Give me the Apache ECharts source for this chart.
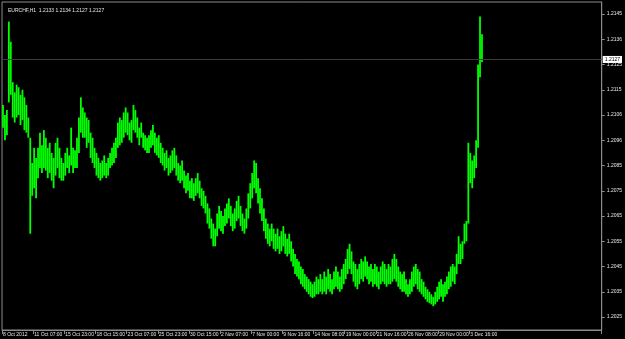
<!DOCTYPE html>
<html><head><meta charset="utf-8">
<script src="https://cdn.jsdelivr.net/npm/echarts@6/dist/echarts.min.js"></script>
<style>html,body{margin:0;padding:0;background:#000;}#c{width:625px;height:339px;}</style>
</head><body><div id="c"></div>
<script>
const symbolTitle = "EURCHF,H1  1.2133 1.2134 1.2127 1.2127";
const xTickLabels = ["8 Oct 2012","11 Oct 07:00","15 Oct 23:00","18 Oct 15:00","23 Oct 07:00","25 Oct 23:00","30 Oct 15:00","2 Nov 07:00","7 Nov 00:00","9 Nov 16:00","14 Nov 08:00","19 Nov 00:00","21 Nov 16:00","26 Nov 08:00","29 Nov 00:00","3 Dec 16:00"];
const barsPerLabel = 16;
const totalSlots = 308;
const yTickValues = [1.2145,1.2135,1.2125,1.2115,1.2105,1.2095,1.2085,1.2075,1.2065,1.2055,1.2045,1.2035,1.2025];
const yTickLabels = ["1.2145","1.2136","1.2125","1.2115","1.2106","1.2096","1.2085","1.2075","1.2065","1.2055","1.2045","1.2035","1.2025"];
const lastPrice = 1.2127;
const lastPriceLabel = "1.2127";

// 4-hour bar highs and lows
const highs = [
1.2109,1.2105,1.2107,1.2142,1.2134,1.2118,1.2114,1.2117,1.2116,1.2113,
1.2115,1.2112,1.2109,1.2104,1.2096,1.2086,1.2092,1.2088,1.2092,1.2098,
1.2093,1.2099,1.2096,1.2092,1.2094,1.2090,1.2088,1.2094,1.2096,1.2092,
1.2088,1.2086,1.2090,1.2092,1.2089,1.2100,1.2092,1.2091,1.2096,1.2104,
1.2112,1.2108,1.2106,1.2104,1.2103,1.2098,1.2096,1.2092,1.2090,1.2088,
1.2086,1.2087,1.2089,1.2086,1.2088,1.2090,1.2092,1.2094,1.2096,1.2102,
1.2104,1.2103,1.2106,1.2108,1.2106,1.2102,1.2103,1.2109,1.2107,1.2104,
1.2100,1.2102,1.2098,1.2097,1.2096,1.2097,1.2099,1.2101,1.2098,1.2096,
1.2097,1.2094,1.2092,1.2090,1.2091,1.2088,1.2089,1.2091,1.2092,1.2089,
1.2086,1.2085,1.2087,1.2083,1.2081,1.2082,1.2079,1.2080,1.2078,1.2080,
1.2082,1.2079,1.2076,1.2075,1.2073,1.2070,1.2068,1.2064,1.2062,1.2060,
1.2066,1.2069,1.2067,1.2065,1.2068,1.2070,1.2072,1.2069,1.2066,1.2068,
1.2071,1.2073,1.2069,1.2066,1.2064,1.2068,1.2074,1.2078,1.2082,1.2087,
1.2086,1.2080,1.2076,1.2072,1.2068,1.2064,1.2062,1.2060,1.2062,1.2060,
1.2058,1.2060,1.2057,1.2059,1.2061,1.2058,1.2056,1.2058,1.2055,1.2052,
1.2050,1.2048,1.2047,1.2045,1.2044,1.2042,1.2041,1.2040,1.2039,1.2038,
1.2039,1.2041,1.2040,1.2042,1.2040,1.2043,1.2041,1.2044,1.2042,1.2040,
1.2043,1.2045,1.2043,1.2041,1.2044,1.2046,1.2048,1.2052,1.2054,1.2051,
1.2047,1.2046,1.2044,1.2046,1.2048,1.2047,1.2049,1.2047,1.2045,1.2046,
1.2044,1.2046,1.2045,1.2043,1.2045,1.2047,1.2046,1.2044,1.2046,1.2045,
1.2048,1.2050,1.2048,1.2045,1.2043,1.2042,1.2043,1.2040,1.2038,1.2040,
1.2043,1.2045,1.2046,1.2044,1.2043,1.2040,1.2039,1.2037,1.2036,1.2035,
1.2034,1.2033,1.2035,1.2037,1.2039,1.2040,1.2038,1.2039,1.2041,1.2043,
1.2045,1.2046,1.2045,1.2050,1.2057,1.2054,1.2055,1.2062,1.2063,1.2094,
1.2090,1.2087,1.2089,1.2095,1.2125,1.2144,1.2137
];
const lows = [
1.2100,1.2095,1.2097,1.2110,1.2113,1.2104,1.2102,1.2104,1.2105,1.2101,
1.2103,1.2099,1.2098,1.2096,1.2058,1.2073,1.2076,1.2072,1.2080,1.2084,
1.2082,1.2084,1.2083,1.2080,1.2082,1.2079,1.2076,1.2081,1.2084,1.2080,
1.2079,1.2079,1.2081,1.2084,1.2082,1.2085,1.2082,1.2084,1.2084,1.2090,
1.2098,1.2096,1.2096,1.2092,1.2094,1.2088,1.2086,1.2084,1.2081,1.2080,
1.2079,1.2080,1.2081,1.2080,1.2081,1.2084,1.2085,1.2086,1.2088,1.2092,
1.2093,1.2094,1.2096,1.2098,1.2097,1.2095,1.2094,1.2099,1.2098,1.2096,
1.2093,1.2096,1.2092,1.2091,1.2090,1.2090,1.2092,1.2093,1.2090,1.2089,
1.2088,1.2086,1.2085,1.2083,1.2084,1.2081,1.2082,1.2083,1.2084,1.2081,
1.2079,1.2078,1.2079,1.2076,1.2074,1.2075,1.2072,1.2072,1.2071,1.2073,
1.2074,1.2072,1.2069,1.2068,1.2066,1.2062,1.2060,1.2056,1.2053,1.2053,
1.2057,1.2060,1.2059,1.2058,1.2061,1.2062,1.2064,1.2061,1.2059,1.2060,
1.2063,1.2064,1.2061,1.2059,1.2058,1.2060,1.2064,1.2068,1.2072,1.2076,
1.2074,1.2070,1.2066,1.2063,1.2059,1.2056,1.2054,1.2053,1.2055,1.2052,
1.2051,1.2052,1.2050,1.2051,1.2053,1.2050,1.2049,1.2050,1.2047,1.2045,
1.2042,1.2041,1.2040,1.2038,1.2037,1.2036,1.2035,1.2034,1.2033,1.20325,
1.2033,1.2034,1.2034,1.2035,1.2034,1.2035,1.2034,1.2036,1.2035,1.2034,
1.2036,1.2037,1.2036,1.2035,1.2036,1.2038,1.2040,1.2042,1.2044,1.2042,
1.2039,1.2037,1.2036,1.2038,1.2040,1.2039,1.2041,1.2040,1.2038,1.2039,
1.2037,1.2038,1.2037,1.2036,1.2038,1.2039,1.2038,1.2037,1.2038,1.2038,
1.2039,1.2040,1.2039,1.2037,1.2036,1.2035,1.2035,1.2034,1.2033,1.2034,
1.2035,1.2037,1.2038,1.2036,1.2035,1.2034,1.2033,1.2032,1.2031,1.20305,
1.2030,1.20293,1.2030,1.2031,1.2032,1.2033,1.2031,1.2033,1.2034,1.2036,
1.2037,1.2039,1.2038,1.2042,1.2046,1.2046,1.2048,1.2054,1.2055,1.2062,
1.2078,1.2076,1.2080,1.2084,1.2092,1.2120,1.2126
];

const categories = Array.from({length: totalSlots}, (_, i) => i);
const rangeData = highs.map((h, i) => [i, lows[i], h]);
const showTick = (idx) => idx % barsPerLabel === 0 && idx / barsPerLabel < xTickLabels.length;
const FONT = 'Liberation Sans';

const chart = echarts.init(document.getElementById('c'), null, {renderer: 'canvas'});
chart.setOption({
  backgroundColor: '#000000',
  animation: false,
  title: {
    text: symbolTitle, left: 3, top: 3,
    textStyle: {color: '#e6e6e6', fontSize: 5, fontWeight: 'normal', fontFamily: FONT}
  },
  grid: {left: 2, right: 19, top: 2, bottom: 9, show: true, borderColor: '#8c8c8c', borderWidth: 1, backgroundColor: 'transparent'},
  xAxis: {
    type: 'category', data: categories, boundaryGap: true,
    axisLine: {show: true, lineStyle: {color: '#8c8c8c', width: 1}},
    axisTick: {show: true, interval: (idx) => showTick(idx), length: 4, lineStyle: {color: '#8c8c8c'}},
    axisLabel: {
      show: true, interval: (idx) => showTick(idx),
      formatter: (v, idx) => xTickLabels[Math.round(idx / barsPerLabel)] || '',
      align: 'left', margin: 2, color: '#e6e6e6', fontSize: 5, fontFamily: FONT
    },
    splitLine: {show: false}
  },
  yAxis: {
    type: 'value', position: 'right', scale: true,
    min: 1.201986, max: 1.214975,
    axisLine: {show: true, lineStyle: {color: '#8c8c8c', width: 1}},
    axisTick: {show: true, customValues: yTickValues, length: 3, lineStyle: {color: '#8c8c8c'}},
    axisLabel: {
      show: true, customValues: yTickValues, margin: 5, color: '#e6e6e6', fontSize: 5, fontFamily: FONT,
      formatter: (v) => {
        const k = yTickValues.findIndex(t => Math.abs(t - v) < 1e-7);
        return k >= 0 ? yTickLabels[k] : '';
      }
    },
    splitLine: {show: false}
  },
  series: [{
    type: 'custom',
    data: rangeData,
    encode: {x: 0, y: [1, 2]},
    clip: true,
    renderItem: (params, api) => {
      const lo = api.coord([api.value(0), api.value(1)]);
      const hi = api.coord([api.value(0), api.value(2)]);
      return {
        type: 'rect',
        shape: {x: lo[0] - 0.9, y: hi[1], width: 1.8, height: Math.max(1, lo[1] - hi[1])},
        style: {fill: '#00ff00'}
      };
    }
  }, {
    type: 'line',
    data: [],
    symbol: 'none',
    silent: true,
    markLine: {
      silent: true, symbol: ['none', 'none'], animation: false, precision: 6,
      lineStyle: {color: '#3a3a3a', type: 'solid', width: 1},
      label: {show: true, position: 'end', distance: 1, formatter: lastPriceLabel,
        backgroundColor: '#ffffff', color: '#000000', fontSize: 5, fontFamily: FONT, padding: [1, 2, 1, 2]},
      data: [{yAxis: lastPrice}]
    }
  }]
});
</script>
</body></html>
